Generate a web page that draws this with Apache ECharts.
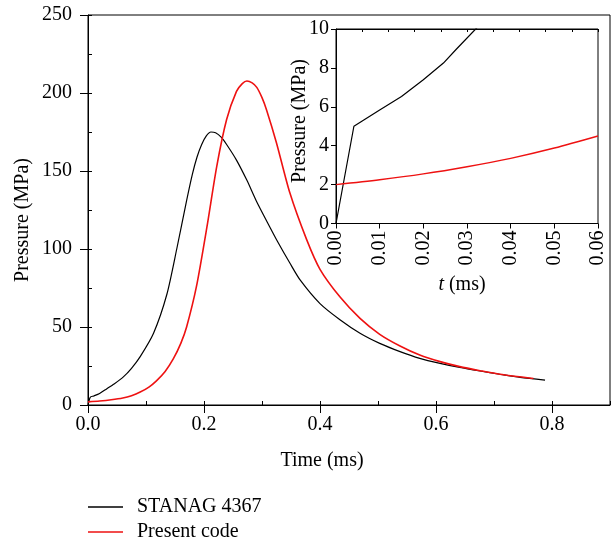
<!DOCTYPE html>
<html>
<head>
<meta charset="utf-8">
<script src="https://cdn.jsdelivr.net/npm/echarts@6/dist/echarts.min.js"></script>
<style>html,body{margin:0;padding:0;background:#fff;}#c{width:612px;height:542px;}</style>
</head>
<body>
<div id="c"></div>
<script>
// ---- data ----
const seriesNames = ['STANAG 4367', 'Present code'];
const mainXTicks = [0, 0.2, 0.4, 0.6, 0.8];
const mainYTicks = [0, 50, 100, 150, 200, 250];
const insetXTicks = [0, 0.01, 0.02, 0.03, 0.04, 0.05, 0.06];
const insetYTicks = [0, 2, 4, 6, 8, 10];

// main plot: [time (ms), pressure (MPa)]
const stanagMain = [
  [0, 0], [0.004, 5], [0.01, 5.8], [0.02, 7.4], [0.032, 10.3], [0.045, 13.5],
  [0.061, 18], [0.075, 23.5], [0.09, 31], [0.113, 46], [0.136, 71], [0.153, 100],
  [0.17, 131], [0.18, 148], [0.188, 159], [0.196, 167], [0.204, 172.5], [0.212, 175],
  [0.22, 174.5], [0.23, 171.5], [0.239, 167], [0.256, 157], [0.274, 144], [0.29, 131],
  [0.308, 118], [0.328, 104], [0.348, 91], [0.366, 80], [0.4, 65], [0.435, 54.5],
  [0.469, 46], [0.503, 39.5], [0.538, 34.2], [0.572, 29.9], [0.607, 26.7], [0.641, 24.1],
  [0.676, 21.8], [0.71, 19.7], [0.745, 17.7], [0.788, 16]
];
const presentMain = [
  [0, 2], [0.02, 2.55], [0.04, 3.35], [0.06, 4.5], [0.075, 6.0], [0.09, 8.3],
  [0.105, 11.5], [0.118, 15.5], [0.133, 21.5], [0.147, 29.5], [0.16, 39.5], [0.17, 50],
  [0.187, 76], [0.205, 114], [0.222, 153], [0.239, 183], [0.256, 201], [0.266, 206],
  [0.274, 207.7], [0.283, 206.5], [0.291, 203.6], [0.3, 197], [0.308, 189], [0.325, 168],
  [0.348, 136], [0.377, 106], [0.4, 87], [0.435, 69], [0.469, 55.5], [0.503, 45.3],
  [0.538, 37.8], [0.572, 32], [0.607, 27.8], [0.641, 24.6], [0.676, 22], [0.71, 19.7],
  [0.768, 17]
];
// inset: [t (ms), pressure (MPa)]
const stanagInset = [
  [0, 0], [0.0041, 5], [0.01, 5.84], [0.015, 6.53], [0.02, 7.39], [0.0246, 8.25],
  [0.0276, 8.97], [0.0322, 10.05], [0.034, 10.6]
];
const presentInset = [
  [0, 2.0], [0.01, 2.25], [0.02, 2.55], [0.03, 2.92], [0.04, 3.35], [0.05, 3.88], [0.06, 4.5]
];

// ---- chart ----
const FONT = '"Liberation Serif", "DejaVu Serif", serif';
const BLACK = '#000000';
const RED = '#ee1111';
const chart = echarts.init(document.getElementById('c'), null, {renderer: 'canvas'});

const axisLine = {show: true, lineStyle: {color: '#000', width: 1}};
const lbl = (extra) => Object.assign({color: '#000', fontFamily: FONT, fontSize: 20}, extra);

const option = {
  backgroundColor: '#fff',
  animation: false,
  grid: [
    {left: 88, top: 15, right: 2, bottom: 137, show: true, borderColor: '#000', borderWidth: 1, backgroundColor: 'transparent'},
    {left: 336, top: 29, right: 14, bottom: 318.5, show: true, borderColor: '#000', borderWidth: 1, backgroundColor: '#fff'}
  ],
  xAxis: [
    {gridIndex: 0, type: 'value', min: mainXTicks[0], max: 0.9, interval: 0.2,
     axisLine, splitLine: {show: false},
     axisTick: {show: true, length: 8, lineStyle: {color: '#000'}},
     axisLabel: lbl({margin: 10, showMaxLabel: false,
       formatter: v => mainXTicks.some(t => Math.abs(t - v) < 1e-9) ? v.toFixed(1) : ''})},
    {gridIndex: 0, type: 'value', min: 0, max: 0.9, interval: 0.1,
     axisLine: {show: false}, splitLine: {show: false},
     axisTick: {show: true, length: 4, lineStyle: {color: '#000'}},
     axisLabel: {show: false}},
    {gridIndex: 1, type: 'value', min: insetXTicks[0], max: insetXTicks[insetXTicks.length - 1], interval: 0.01,
     axisLine, splitLine: {show: false},
     axisTick: {show: true, length: 5, lineStyle: {color: '#000'}},
     axisLabel: lbl({margin: 7, rotate: 90, formatter: v => v.toFixed(2)})},
    {gridIndex: 1, type: 'value', position: 'top', min: 0, max: 0.06, interval: 0.006,
     axisLine, splitLine: {show: false},
     axisTick: {show: true, inside: true, length: 3, lineStyle: {color: '#000'}},
     axisLabel: {show: false}}
  ],
  yAxis: [
    {gridIndex: 0, type: 'value', min: mainYTicks[0], max: mainYTicks[mainYTicks.length - 1], interval: 50,
     axisLine, splitLine: {show: false},
     axisTick: {show: true, length: 8, lineStyle: {color: '#000'}},
     axisLabel: lbl({margin: 16})},
    {gridIndex: 0, type: 'value', min: 0, max: 250, interval: 25,
     axisLine: {show: false}, splitLine: {show: false},
     axisTick: {show: true, length: 4, lineStyle: {color: '#000'}},
     axisLabel: {show: false}},
    {gridIndex: 1, type: 'value', min: insetYTicks[0], max: insetYTicks[insetYTicks.length - 1], interval: 2,
     axisLine, splitLine: {show: false},
     axisTick: {show: true, length: 5, lineStyle: {color: '#000'}},
     axisLabel: lbl({margin: 7})}
  ],
  legend: {
    orient: 'vertical', left: 88, top: 497, itemGap: 5, padding: 0,
    itemWidth: 35, itemHeight: 1.5, icon: 'rect',
    data: seriesNames,
    textStyle: {color: '#000', fontFamily: FONT, fontSize: 20, lineHeight: 20, padding: [0, 0, 0, 9]}
  },
  series: [
    {name: seriesNames[0], type: 'line', xAxisIndex: 0, yAxisIndex: 0, data: stanagMain,
     smooth: 0.25, showSymbol: false, lineStyle: {color: BLACK, width: 1.2}, itemStyle: {color: BLACK}, z: 3},
    {name: seriesNames[1], type: 'line', xAxisIndex: 0, yAxisIndex: 0, data: presentMain,
     smooth: 0.25, showSymbol: false, lineStyle: {color: RED, width: 1.6}, itemStyle: {color: RED}, z: 4},
    {name: seriesNames[0], type: 'line', xAxisIndex: 2, yAxisIndex: 2, data: stanagInset,
     smooth: false, showSymbol: false, lineStyle: {color: BLACK, width: 1.2}, itemStyle: {color: BLACK}, z: 5},
    {name: seriesNames[1], type: 'line', xAxisIndex: 2, yAxisIndex: 2, data: presentInset,
     smooth: 0.3, showSymbol: false, lineStyle: {color: RED, width: 1.4}, itemStyle: {color: RED}, z: 5}
  ],
  graphic: [
    {type: 'text', x: 23, y: 220, rotation: Math.PI / 2, z: 10,
     style: {text: 'Pressure (MPa)', fill: '#000', font: '20px ' + FONT, align: 'center', verticalAlign: 'middle'}},
    {type: 'text', x: 322, y: 461, z: 10,
     style: {text: 'Time (ms)', fill: '#000', font: '20px ' + FONT, align: 'center', verticalAlign: 'middle'}},
    {type: 'text', x: 300, y: 121, rotation: Math.PI / 2, z: 10,
     style: {text: 'Pressure (MPa)', fill: '#000', font: '20px ' + FONT, align: 'center', verticalAlign: 'middle'}},
    {type: 'text', x: 462, y: 285, z: 10,
     style: {text: '{i|t} (ms)', fill: '#000', font: '20px ' + FONT, align: 'center', verticalAlign: 'middle',
       rich: {i: {fontStyle: 'italic', fontFamily: FONT, fontSize: 20, fill: '#000'}}}}
  ]
};
chart.setOption(option);
</script>
</body>
</html>
